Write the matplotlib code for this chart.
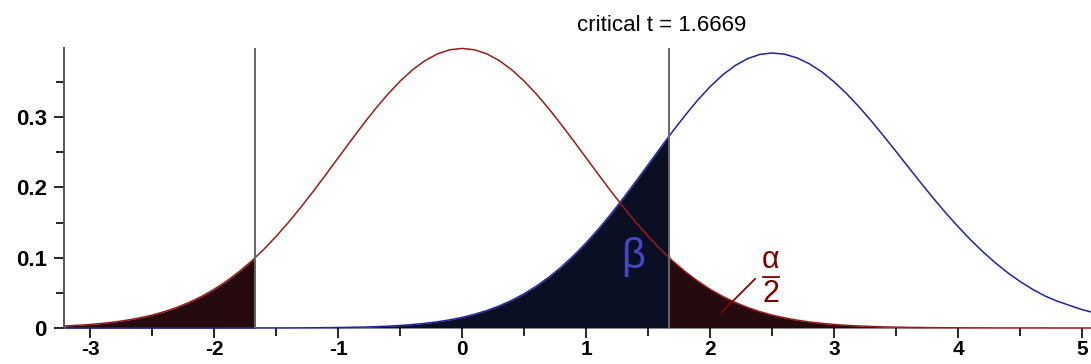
import numpy as np
import matplotlib.pyplot as plt
from matplotlib.ticker import MultipleLocator

# x grid (step 0.1) and curve heights
xs = np.round(np.arange(-3.2, 5.11, 0.1), 1)

# central t (red), right half from 0 to 5.1; left half is its mirror
red_right = [0.3975, 0.3956, 0.3897, 0.3801, 0.3671, 0.3510, 0.3323, 0.3115, 0.2891, 0.2657,
             0.2418, 0.2179, 0.1944, 0.1718, 0.1503, 0.1302, 0.1117, 0.0949, 0.0799, 0.0666,
             0.0550, 0.0450, 0.0365, 0.0293, 0.0233, 0.0184, 0.0144, 0.0112, 0.0086, 0.0066,
             0.0050, 0.0038, 0.0029, 0.0022, 0.0016, 0.0012, 0.0009, 0.0007, 0.0005, 0.0004,
             0.0003, 0.0002, 0.0002, 0.0001, 0.0001, 0.0001, 0.0001, 0.0001, 0.0000, 0.0000,
             0.0000, 0.0000]
red_left = red_right[1:33][::-1]   # x = -3.2 .. -0.1
red = np.array(red_left + red_right)

# shifted t (blue), x = -3.2 .. 5.1
blue = np.array([0.0000] * 13 + [
    0.0001, 0.0001, 0.0001, 0.0001, 0.0001, 0.0001,            # -1.9 .. -1.4
    0.0002, 0.0003, 0.0005, 0.0007, 0.0010, 0.0013, 0.0019,    # -1.3 .. -0.7
    0.0026, 0.0036, 0.0049, 0.0066, 0.0088, 0.0116, 0.0151,    # -0.6 .. 0.0
    0.0195, 0.0249, 0.0315, 0.0394, 0.0487, 0.0597, 0.0724,    # 0.1 .. 0.7
    0.0868, 0.1031, 0.1212, 0.1409, 0.1622, 0.1848, 0.2083,    # 0.8 .. 1.4
    0.2323, 0.2565, 0.2802, 0.3029, 0.3242, 0.3433, 0.3598,    # 1.5 .. 2.1
    0.3731, 0.3829, 0.3890, 0.3910, 0.3893, 0.3841, 0.3756,    # 2.2 .. 2.8
    0.3641, 0.3498, 0.3331, 0.3144, 0.2941, 0.2726, 0.2506,    # 2.9 .. 3.5
    0.2282, 0.2060, 0.1843, 0.1634, 0.1437, 0.1252, 0.1081,    # 3.6 .. 4.2
    0.0925, 0.0784, 0.0659, 0.0549, 0.0454, 0.0380, 0.0320,    # 4.3 .. 4.9
    0.0260, 0.0215])                                            # 5.0 .. 5.1

crit = 1.6669
red_at_crit = 0.1000
blue_at_crit = 0.2730

plt.rcParams['font.family'] = ['Liberation Sans', 'DejaVu Sans']
plt.rcParams['axes.unicode_minus'] = False

fig = plt.figure(figsize=(10.91, 3.64), dpi=100)
ax = fig.add_axes([0.0587, 0.0989, 0.9413, 0.769])

# shaded areas
m = xs < -crit
ax.fill_between(np.append(xs[m], -crit), 0, np.append(red[m], red_at_crit),
                color='#250a0e', lw=0)
m = xs < crit
ax.fill_between(np.append(xs[m], crit), 0, np.append(blue[m], blue_at_crit),
                color='#0b0f24', lw=0)
m = xs > crit
ax.fill_between(np.insert(xs[m], 0, crit), 0, np.insert(red[m], 0, red_at_crit),
                color='#250a0e', lw=0)

ax.plot(xs, blue, color='#2222a0', lw=1.1, clip_on=False)
ax.plot(xs, red, color='#9a1a1a', lw=1.1, clip_on=False)

ax.axvline(-crit, color='#666666', lw=1.4)
ax.axvline(crit, color='#666666', lw=1.4)

ax.text(1.61, 0.430, 'critical t = 1.6669', ha='center', va='center',
        fontsize=16, color='black')
ax.text(1.38, 0.101, 'β', ha='center', va='center', fontsize=30,
        color='#4646c8')
ax.plot([2.095, 2.361], [0.0228, 0.0697], color='#8b0000', lw=1.3)
# alpha over 2
ax.text(2.49, 0.0967, 'α', ha='center', va='center', fontsize=22, color='#800000')
ax.plot([2.425, 2.555], [0.0725, 0.0725], color='#800000', lw=1.3)
ax.text(2.49, 0.0477, '2', ha='center', va='center', fontsize=22, color='#800000')

ax.set_xlim(-3.21, 5.07)
ax.set_ylim(0, 0.398)
ax.xaxis.set_major_locator(MultipleLocator(1))
ax.xaxis.set_minor_locator(MultipleLocator(0.5))
ax.set_yticks([0, 0.1, 0.2, 0.3])
ax.set_yticklabels(['0', '0.1', '0.2', '0.3'])
ax.yaxis.set_minor_locator(MultipleLocator(0.05))
ax.tick_params(which='major', length=7.5, width=1.2)
ax.tick_params(which='minor', length=5.5, width=1.2)
ax.tick_params(axis='y', labelsize=16, pad=5)
ax.tick_params(axis='x', labelsize=15, pad=1)
for lab in ax.get_xticklabels() + ax.get_yticklabels():
    lab.set_fontweight('bold')

for s in ['top', 'right', 'bottom']:
    ax.spines[s].set_visible(False)
ax.spines['left'].set_color('#555555')
ax.spines['left'].set_linewidth(1.4)

plt.savefig('out.png', dpi=100)
